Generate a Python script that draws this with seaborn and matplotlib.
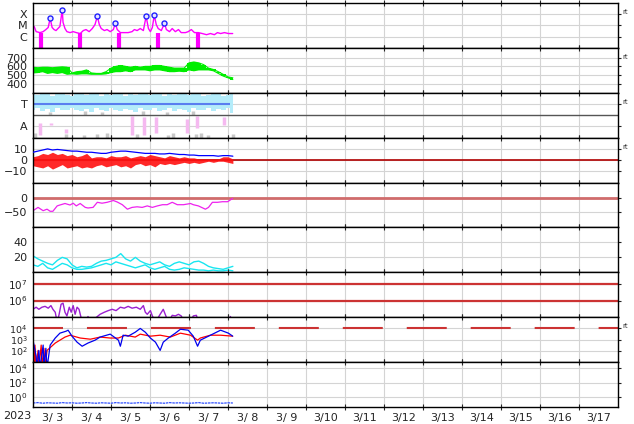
""" Stacked space-weather summary panels, 2023-03-03 .. 2023-03-17 """

import numpy as np
import matplotlib
matplotlib.use("Agg")
import matplotlib.pyplot as plt
from matplotlib.ticker import NullLocator
import seaborn as sns

sns.set_style("white")
plt.rcParams['font.family'] = ['DejaVu Sans']

""" Data (time in days from 2023-03-03 00:00 UT) """

day_labels = ["3/ 3", "3/ 4", "3/ 5", "3/ 6", "3/ 7", "3/ 8", "3/ 9", "3/10",
              "3/11", "3/12", "3/13", "3/14", "3/15", "3/16", "3/17"]

# 3-hourly sampling used by several series
hours3 = [0, 3, 6, 9, 12, 15, 18, 21, 24, 27, 30, 33, 36, 39, 42, 45, 48, 51, 54, 57, 60,
          63, 66, 69, 72, 75, 78, 81, 84, 87, 90, 93, 96, 99, 102, 105, 108, 111, 114, 117, 120, 123]

# X-ray flux, in units of 1e-6 W/m2 (C=1, M=10, X=100)
xray_t = [0.03, 0.08, 0.18, 0.26, 0.33, 0.39, 0.44, 0.49, 0.54, 0.59, 0.64, 0.69, 0.75, 0.77, 0.82,
          0.87, 0.95, 1.03, 1.11, 1.21, 1.29, 1.36, 1.44, 1.52, 1.59, 1.65, 1.70, 1.75, 1.83, 1.90,
          1.98, 2.06, 2.11, 2.16, 2.24, 2.34, 2.44, 2.54, 2.60, 2.67, 2.75, 2.83, 2.90, 2.96, 3.01,
          3.06, 3.11, 3.16, 3.21, 3.29, 3.37, 3.42, 3.50, 3.57, 3.65, 3.73, 3.80, 3.91, 3.98, 4.06,
          4.14, 4.24, 4.34, 4.45, 4.55, 4.65, 4.73, 4.81, 4.91, 5.01, 5.12]
xray_v = [8.1, 2.8, 2.3, 2.8, 4.3, 6.6, 43, 6.6, 4.3, 3.5, 5.3, 8.1, 250, 19, 5.3,
          2.8, 2.3, 2.8, 2.3, 1.9, 3.5, 4.3, 2.8, 5.3, 12, 66, 12, 5.3, 3.5, 4.3,
          2.8, 4.3, 15, 4.3, 2.3, 2.3, 2.3, 2.8, 4.3, 3.5, 5.3, 3.5, 66, 5.3, 2.8,
          6.6, 81, 12, 5.3, 3.5, 15, 4.3, 2.8, 5.3, 2.8, 4.3, 2.3, 2.3, 2.8, 4.3,
          2.3, 2.3, 1.9, 1.5, 1.9, 1.5, 2.3, 1.9, 2.3, 1.9, 1.9]
flare_t = [0.44, 0.75, 1.65, 2.11, 2.90, 3.11, 3.37]
flare_v = [43, 250, 66, 15, 66, 81, 15]
xray_gap_t = [0.21, 1.21, 2.21, 3.21, 4.22]

# solar wind speed envelope (km/s)
speed_lo = [525, 530, 540, 520, 530, 520, 530, 510, 515, 510, 515, 515, 510, 510, 510, 515, 530, 540, 540, 550, 540,
            560, 560, 560, 550, 560, 560, 550, 540, 540, 545, 540, 560, 550, 560, 560, 560, 550, 520, 490, 470, 450]
speed_hi = [590, 585, 590, 590, 585, 590, 595, 590, 525, 540, 545, 560, 525, 520, 520, 540, 580, 600, 610, 600, 590,
            600, 590, 600, 600, 610, 610, 600, 590, 580, 580, 580, 640, 650, 640, 620, 580, 565, 540, 510, 480, 470]

# T / A panel
t_band_hi = [3.9, 3.8, 3.85, 3.9, 3.7, 3.85, 3.9, 3.8, 3.75, 3.9, 3.85, 3.8, 3.9, 3.85, 3.7, 3.9, 3.8, 3.9, 3.85, 3.75, 3.9,
             3.8, 3.85, 3.9, 3.8, 3.85, 3.9, 3.7, 3.85, 3.8, 3.9, 3.85, 3.8, 3.9, 3.85, 3.75, 3.8, 3.9, 3.85, 3.7, 3.8, 3.9]
t_band_lo = [2.5, 2.6, 2.4, 2.55, 2.3, 2.6, 2.5, 2.45, 2.6, 2.5, 2.4, 2.55, 2.3, 2.6, 2.5, 2.35, 2.6, 2.5, 2.4, 2.55, 2.5,
             2.3, 2.6, 2.45, 2.5, 2.6, 2.35, 2.5, 2.6, 2.4, 2.55, 2.5, 2.3, 2.6, 2.5, 2.45, 2.6, 2.4, 2.55, 2.5, 2.6, 2.2]
pink_t = [0.18, 0.46, 0.84, 2.55, 2.85, 3.15, 3.96, 4.20, 4.90]
pink_lo = [0.2, 1.1, 0.4, 0.2, 0.2, 0.4, 0.4, 0.9, 1.1]
pink_hi = [1.3, 1.3, 0.8, 1.9, 1.8, 1.8, 1.7, 1.9, 1.8]
gray_t = [0.05, 0.85, 1.30, 1.65, 1.90, 2.67, 3.45, 3.60, 4.17, 4.32, 4.48, 5.12,
          0.44, 1.34, 1.77, 2.83, 3.44, 4.09]
gray_lo = [0.0, 0.0, 0.0, 0.0, 0.0, 0.0, 0.0, 0.0, 0.0, 0.0, 0.0, 0.0,
           2.0, 2.0, 2.0, 2.0, 2.0, 2.0]
gray_hi = [0.4, 0.3, 0.2, 0.3, 0.4, 0.3, 0.2, 0.4, 0.3, 0.4, 0.2, 0.3,
           2.3, 2.4, 2.3, 2.4, 2.3, 2.4]

# IMF (nT)
bt = [7, 8, 9, 10, 9, 9.5, 9, 8.5, 8, 8, 7.5, 7, 7, 6.5, 6, 6, 7, 7.5, 8, 8, 7.5,
      7, 6.5, 6, 6, 6, 5.5, 5.5, 6, 5.5, 5, 5, 4.5, 4.5, 4, 4, 4, 4, 3.5, 4, 4, 3.5]
bz_lo = [-5, -6, -7, -5, -8, -6, -4, -7, -6, -5, -7, -6, -7, -5, -4, -6, -5, -4, -6, -5, -7,
         -4, -3, -5, -4, -6, -3, -4, -3, -4, -3, -2, -3, -2, -3, -2, -1, -2, -1, -1, -2, -3]
bz_hi = [3, 4, 6, 5, 7, 5, 6, 4, 5, 3, 4, 6, 2, 3, 3, 2, 4, 3, 3, 4, 2,
         3, 4, 3, 5, 4, 3, 2, 4, 3, 2, 3, 2, 2, 1, 1, 1, 1, 1, 3, 3, 1]

# Dst (nT)
dst_t = [0.00, 0.13, 0.26, 0.36, 0.44, 0.51, 0.62, 0.69, 0.82, 0.95, 1.03, 1.11, 1.21, 1.34, 1.41,
         1.54, 1.65, 1.77, 1.90, 2.06, 2.16, 2.29, 2.42, 2.54, 2.67, 2.80, 2.93, 3.06, 3.19, 3.32,
         3.44, 3.57, 3.70, 3.86, 4.04, 4.11, 4.24, 4.42, 4.50, 4.60, 4.73, 4.86, 4.99, 5.12]
dst_v = [-44, -33, -44, -39, -46, -46, -28, -25, -20, -25, -19, -28, -20, -33, -35,
         -33, -16, -19, -16, -10, -15, -24, -39, -33, -31, -33, -28, -33, -28, -24,
         -24, -16, -24, -24, -20, -24, -28, -39, -33, -16, -16, -14, -14, -3]

# density, two sources
dens_a = [22, 18, 15, 12, 10, 16, 20, 18, 10, 6, 8, 7, 8, 12, 15, 16, 18, 20, 25, 18, 15,
          20, 15, 12, 10, 12, 14, 10, 8, 12, 14, 12, 10, 14, 15, 12, 8, 6, 5, 4, 6, 8]
dens_b = [10, 8, 12, 6, 4, 8, 12, 10, 6, 4, 4, 5, 6, 8, 10, 12, 10, 14, 12, 10, 8,
          6, 8, 10, 6, 4, 6, 8, 4, 3, 4, 6, 5, 4, 3, 3, 2, 3, 2, 2, 3, 2]

# electron fluence
elec_t = [0.00, 0.08, 0.15, 0.23, 0.31, 0.39, 0.46, 0.51, 0.57, 0.62, 0.67, 0.72, 0.77, 0.82, 0.87,
          0.93, 0.98, 1.03, 1.08, 1.13, 1.18, 1.23, 1.29, 1.36, 1.41, 1.47, 1.72, 1.83, 1.93, 2.03,
          2.13, 2.24, 2.34, 2.44, 2.54, 2.65, 2.75, 2.83, 2.88, 2.93, 3.01, 3.06, 3.14, 3.26, 3.34,
          3.39, 3.47, 3.57, 3.65, 3.73, 3.80, 3.88, 4.04, 4.11, 4.19, 4.24, 5.01, 5.06, 5.12]
elec_v = [3e5, 4e5, 3e5, 4e5, 4.5e5, 3.5e5, 5e5, 3e5, 2e5, 5e4, 1.5e5, 6e5, 7e5, 2e5, 1.2e5,
          4e5, 2e5, 5e5, 1.5e5, 4e5, 3e5, 1e5, 5e4, 5e4, 1.1e5, 5e4, 1.5e5, 2e5, 2.5e5, 3e5,
          2.5e5, 4e5, 3.5e5, 4.5e5, 3.5e5, 4e5, 3e5, 5e5, 2e5, 1.5e5, 2.5e5, 1.2e5, 5e4, 1.5e5, 3e5,
          1.5e5, 5e4, 1.3e5, 1.2e5, 1.5e5, 1.2e5, 5e4, 5e4, 1.2e5, 1.3e5, 5e4, 5e4, 1.1e5, 5e4]

# magnetometer activity, two stations
mag_red_t = [0.00, 0.03, 0.05, 0.08, 0.13, 0.15, 0.21, 0.23, 0.28, 0.31, 0.36, 0.57, 0.82, 0.95, 1.21,
             1.47, 1.72, 1.98, 2.19, 2.37, 2.62, 2.75, 3.01, 3.26, 3.52, 3.78, 4.04, 4.22, 4.29, 4.55,
             4.81, 5.12]
mag_red_v = [900, 3, 330, 3, 110, 3, 330, 3, 170, 3, 110, 500, 1700, 2500, 1400,
             1100, 1700, 1400, 1400, 2500, 1700, 3100, 2050, 2500, 1700, 3800, 2500, 900, 1400, 2500,
             2500, 2050]
mag_blue_t = [0.00, 0.08, 0.10, 0.15, 0.18, 0.26, 0.28, 0.33, 0.36, 0.44, 0.57, 0.69, 0.85, 0.90, 1.00,
              1.13, 1.26, 1.41, 1.59, 1.72, 1.98, 2.19, 2.24, 2.31, 2.44, 2.62, 2.75, 2.88, 3.01, 3.14,
              3.26, 3.34, 3.47, 3.65, 3.78, 3.98, 4.11, 4.22, 4.29, 4.55, 4.81, 5.01, 5.12]
mag_blue_v = [900, 35, 3, 110, 3, 330, 3, 170, 3, 330, 1400, 3800, 5700, 7000, 2050,
              600, 260, 500, 900, 1700, 3100, 900, 260, 2500, 2050, 4600, 10000, 4600, 1400, 600,
              110, 600, 1400, 3800, 8500, 7000, 2050, 260, 900, 2500, 7000, 3800, 2050]

# bottom panel
low_v = [0.15, 0.17, 0.14, 0.16, 0.15, 0.14, 0.17, 0.15, 0.16, 0.14, 0.15, 0.17, 0.15, 0.14, 0.16, 0.15, 0.14, 0.17, 0.15, 0.16, 0.14,
         0.15, 0.17, 0.15, 0.14, 0.16, 0.15, 0.14, 0.17, 0.15, 0.16, 0.15, 0.14, 0.15, 0.17, 0.14, 0.15, 0.16, 0.15, 0.14, 0.16, 0.15]

""" Building the figure """

t3 = np.array(hours3) / 24.0
grid_c = '#d4d4d4'

fig, axes = plt.subplots(9, 1, sharex=True, figsize=(6.34, 4.24), dpi=100)
fig.subplots_adjust(left=33/634, right=618/634, top=1-3/424, bottom=1-407/424, hspace=0)

# 1 X-ray
ax = axes[0]
ax.set_yscale('log')
ax.vlines(xray_gap_t, 0.1, 2.3, color='#ff00ff', lw=3)
sns.lineplot(x=xray_t, y=xray_v, ax=ax, color='#ff00ff', lw=1, estimator=None, sort=False)
sns.scatterplot(x=flare_t, y=flare_v, ax=ax, marker='o', s=13, facecolor='#e6e6ff',
                edgecolor='#2020ff', linewidth=1.0, zorder=5)
ax.set_ylim(0.1, 1000)
ax.set_yticks([1, 10, 100])
ax.set_yticklabels(['C', 'M', 'X'])

# 2 solar wind speed
ax = axes[1]
ax.fill_between(t3, speed_lo, speed_hi, color='#00ee00', lw=0, step='mid')
sns.lineplot(x=t3, y=speed_lo, ax=ax, color='#00ee00', lw=0.8, estimator=None)
sns.lineplot(x=t3, y=speed_hi, ax=ax, color='#00ee00', lw=0.8, estimator=None)
ax.set_ylim(300, 810)
ax.set_yticks([400, 500, 600, 700])

# 3 T / A
ax = axes[2]
ax.fill_between(t3, t_band_lo, t_band_hi, color='#b4ecfa', lw=0, step='mid')
ax.hlines(3, 0, 5.05, color='#5a7ef0', lw=1.5)
ax.vlines(gray_t, gray_lo, gray_hi, color='#c8c8c8', lw=2.5)
ax.vlines(pink_t, pink_lo, pink_hi, color='#f5b9f0', lw=2.5)
ax.axhline(2, color='#555555', lw=1)
ax.set_ylim(0, 4)
ax.set_yticks([1, 3])
ax.set_yticklabels(['A', 'T'])

# 4 IMF
ax = axes[3]
ax.axhline(0, color='#b00000', lw=1.2, zorder=1)
ax.fill_between(t3, bz_lo, bz_hi, color='#ff1010', lw=0, alpha=0.9, zorder=2)
sns.lineplot(x=t3, y=bt, ax=ax, color='#0000ff', lw=0.9, estimator=None, zorder=3)
ax.set_ylim(-20, 20)
ax.set_yticks([-10, 0, 10])

# 5 Dst
ax = axes[4]
ax.axhline(0, color='#d06c6c', lw=2, zorder=1)
sns.lineplot(x=dst_t, y=dst_v, ax=ax, color='#ee22ee', lw=0.9, estimator=None, sort=False)
ax.set_ylim(-100, 50)
ax.set_yticks([-50, 0])

# 6 density
ax = axes[5]
sns.lineplot(x=t3, y=dens_a, ax=ax, color='#18e6f0', lw=1, estimator=None)
sns.lineplot(x=t3, y=dens_b, ax=ax, color='#18e6f0', lw=1, estimator=None)
ax.set_ylim(0, 60)
ax.set_yticks([20, 40])

# 7 electrons
ax = axes[6]
ax.set_yscale('log')
ax.axhline(1e7, color='#cc3333', lw=1.6)
ax.axhline(1e6, color='#cc3333', lw=1.6)
sns.lineplot(x=elec_t, y=elec_v, ax=ax, color='#9a1fd0', lw=1, estimator=None, sort=False)
ax.set_ylim(1e5, 5e7)
ax.set_yticks([1e6, 1e7])

# 8 magnetometers
ax = axes[7]
ax.set_yscale('log')
ax.axhline(1e4, color='#cc3333', lw=1.5, linestyle=(4.8, (19.2, 11.5)))
sns.lineplot(x=mag_red_t, y=mag_red_v, ax=ax, color='#ff0000', lw=0.9, estimator=None, sort=False)
sns.lineplot(x=mag_blue_t, y=mag_blue_v, ax=ax, color='#0000ee', lw=0.9, estimator=None, sort=False)
ax.set_ylim(10, 1e5)
ax.set_yticks([1e2, 1e3, 1e4])

# 9 bottom
ax = axes[8]
ax.set_yscale('log')
sns.lineplot(x=t3, y=low_v, ax=ax, color='#3050ff', lw=0.9, estimator=None, linestyle=(0, (2, 0.6)))
ax.set_ylim(0.042, 6.7e4)
ax.set_yticks([1e0, 1e2, 1e4])

# common styling
for i, ax in enumerate(axes):
    ax.set_xlim(0, 15)
    ax.set_xticks([d + 0.5 for d in range(15)])
    ax.set_xticks(list(range(1, 15)), minor=True)
    ax.yaxis.set_minor_locator(NullLocator())
    ax.xaxis.grid(True, which='minor', color=grid_c, lw=0.8)
    ax.xaxis.grid(False, which='major')
    ax.yaxis.grid(True, which='major', color=grid_c, lw=0.8)
    ax.set_axisbelow(True)
    ax.tick_params(axis='x', which='major', length=0, labelsize=8, pad=4)
    ax.tick_params(axis='x', which='minor', direction='inout', length=4, width=0.8, top=True, bottom=True)
    lsize = 7.5 if ax.get_yscale() == 'log' else 8
    ax.tick_params(axis='y', which='major', length=2, width=0.8, labelsize=lsize, pad=2,
                   right=True, labelright=False, colors='#222222')
    ax.set_ylabel('')
    for sp in ax.spines.values():
        sp.set_color('black')
        sp.set_linewidth(1.0)
    if i in (0, 1, 2, 3, 7):
        ax.text(1.008, 0.8, 'rt', transform=ax.transAxes, fontsize=5, color='#333333', va='center')

axes[0].tick_params(axis='y', labelsize=8)
axes[2].tick_params(axis='y', labelsize=8)
axes[7].tick_params(axis='y', labelsize=6.8)
axes[-1].set_xticklabels(day_labels)
axes[-1].annotate('2023', xy=(0, 0), xycoords='axes fraction', xytext=(-1.5, -6.5),
                  textcoords='offset points', ha='right', va='center', fontsize=8, color='#222222')

plt.savefig('out.png', dpi=100)
